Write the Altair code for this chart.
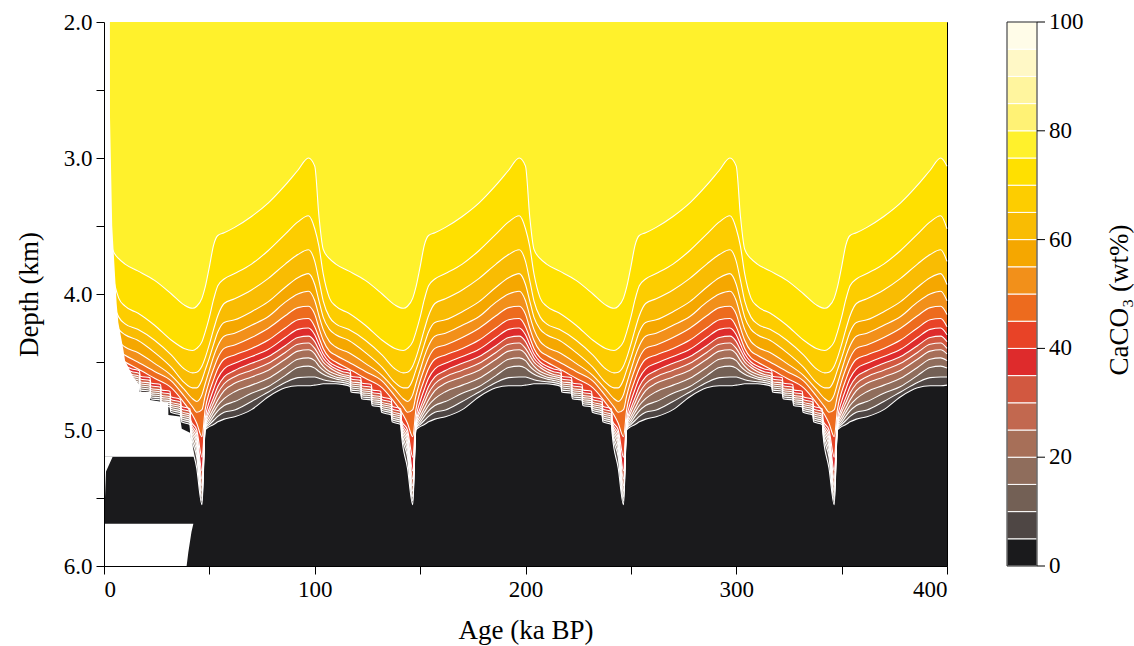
import altair as alt
import pandas as pd

# Relative age within one 100-kyr cycle (ka) for the upper contours
cycle_t = [0, 2, 4, 7, 10, 16, 24, 32, 38, 42, 44, 46.5, 48, 50, 52, 54, 57, 62, 70, 78, 86, 92, 97]
# Finer grid for the lower contours, which step down along the falling limb
cycle_t_low = [0, 2, 4, 7, 10, 13, 16.8, 17.2, 21.8, 22.2, 26.8, 27.2, 31.3, 31.7, 36.3, 36.7,
               40.8, 41.2, 44, 46.5, 48, 50, 52, 54, 57, 62, 70, 78, 86, 92, 97]
cycle_starts = [0, 100, 200, 300]

# Contour depths (km) for each CaCO3 level (wt%) across one cycle
c75 = [3.06, 3.43, 3.67, 3.74, 3.78, 3.83, 3.90, 4.00, 4.08, 4.105, 4.09, 4.03, 3.95, 3.80, 3.64, 3.57, 3.55, 3.51, 3.43, 3.33, 3.20, 3.09, 3.00]
c70 = [3.52, 3.65, 3.85, 4.03, 4.09, 4.14, 4.23, 4.34, 4.40, 4.415, 4.40, 4.35, 4.28, 4.17, 4.04, 3.94, 3.89, 3.85, 3.78, 3.68, 3.56, 3.47, 3.425]
c65 = [3.76, 3.90, 4.05, 4.17, 4.22, 4.26, 4.34, 4.45, 4.55, 4.58, 4.575, 4.53, 4.47, 4.37, 4.26, 4.16, 4.07, 4.035, 3.97, 3.885, 3.78, 3.71, 3.675]
c60 = [3.93, 4.05, 4.17, 4.26, 4.30, 4.34, 4.43, 4.54, 4.65, 4.69, 4.69, 4.63, 4.56, 4.47, 4.37, 4.28, 4.21, 4.19, 4.13, 4.056, 3.95, 3.88, 3.85]
c55 = [4.05, 4.16, 4.26, 4.35, 4.39, 4.43, 4.51, 4.60, 4.70, 4.77, 4.79, 4.74, 4.66, 4.56, 4.46, 4.38, 4.31, 4.289, 4.23, 4.166, 4.06, 4.00, 3.98]
c50 = [4.15, 4.25, 4.34, 4.42, 4.45, 4.50, 4.57, 4.64, 4.75, 4.83, 4.87, 4.85, 4.75, 4.64, 4.55, 4.47, 4.40, 4.375, 4.32, 4.252, 4.16, 4.10, 4.09]
c45 = [4.24, 4.32, 4.40, 4.47, 4.50, 4.55, 4.62, 4.69, 4.80, 4.89, 4.95, 5.05, 4.85, 4.72, 4.63, 4.55, 4.48, 4.448, 4.40, 4.338, 4.25, 4.19, 4.18]
c40 = [4.30, 4.37, 4.44, 4.50, 4.53, 4.55, 4.565, 4.605, 4.615, 4.655, 4.665, 4.705, 4.715, 4.755, 4.775, 4.825, 4.845, 4.93, 5.00, 5.20, 4.92, 4.79, 4.70, 4.62, 4.55, 4.51, 4.46, 4.407, 4.32, 4.26, 4.25]
c35 = [4.35, 4.41, 4.47, 4.52, 4.55, 4.57, 4.585, 4.625, 4.635, 4.675, 4.685, 4.725, 4.735, 4.775, 4.795, 4.845, 4.865, 4.945, 5.03, 5.30, 4.95, 4.84, 4.76, 4.68, 4.61, 4.563, 4.51, 4.46, 4.38, 4.32, 4.31]
c30 = [4.40, 4.45, 4.50, 4.54, 4.57, 4.59, 4.605, 4.645, 4.655, 4.695, 4.705, 4.745, 4.755, 4.795, 4.815, 4.865, 4.885, 4.96, 5.06, 5.36, 4.96, 4.87, 4.80, 4.73, 4.66, 4.608, 4.56, 4.51, 4.43, 4.37, 4.36]
c25 = [4.44, 4.49, 4.53, 4.57, 4.59, 4.605, 4.62, 4.66, 4.67, 4.71, 4.72, 4.76, 4.77, 4.81, 4.83, 4.88, 4.90, 4.975, 5.09, 5.41, 4.97, 4.90, 4.84, 4.78, 4.71, 4.657, 4.61, 4.56, 4.48, 4.42, 4.41]
c20 = [4.49, 4.53, 4.56, 4.59, 4.61, 4.62, 4.635, 4.675, 4.685, 4.725, 4.735, 4.775, 4.785, 4.825, 4.845, 4.895, 4.915, 4.99, 5.12, 5.45, 4.98, 4.925, 4.87, 4.82, 4.77, 4.718, 4.67, 4.62, 4.54, 4.48, 4.47]
c15 = [4.545, 4.57, 4.59, 4.61, 4.625, 4.635, 4.65, 4.69, 4.70, 4.74, 4.75, 4.79, 4.80, 4.84, 4.86, 4.91, 4.93, 5.005, 5.16, 5.49, 4.985, 4.945, 4.90, 4.86, 4.82, 4.791, 4.73, 4.68, 4.60, 4.54, 4.53]
c10 = [4.61, 4.62, 4.63, 4.64, 4.645, 4.65, 4.665, 4.705, 4.715, 4.755, 4.765, 4.805, 4.815, 4.855, 4.875, 4.925, 4.945, 5.02, 5.20, 5.52, 4.99, 4.96, 4.93, 4.90, 4.87, 4.853, 4.79, 4.72, 4.65, 4.615, 4.61]
c05 = [4.67, 4.665, 4.66, 4.66, 4.66, 4.665, 4.68, 4.72, 4.73, 4.77, 4.78, 4.82, 4.83, 4.87, 4.89, 4.94, 4.96, 5.04, 5.28, 5.55, 5.00, 4.975, 4.96, 4.94, 4.92, 4.902, 4.85, 4.755, 4.69, 4.675, 4.675]

# (level, depths, grid), drawn from the shallowest contour downwards
contours = [
    (75, c75, cycle_t), (70, c70, cycle_t), (65, c65, cycle_t), (60, c60, cycle_t),
    (55, c55, cycle_t), (50, c50, cycle_t), (45, c45, cycle_t), (40, c40, cycle_t_low),
    (35, c35, cycle_t_low), (30, c30, cycle_t_low), (25, c25, cycle_t_low),
    (20, c20, cycle_t_low), (15, c15, cycle_t_low), (10, c10, cycle_t_low), (5, c05, cycle_t_low),
]

# Band fill colours, 0-5 % up to 95-100 %
band_colors = ["#1a1a1c", "#4e4644", "#736055", "#8f6d5c", "#a76f58", "#c2684f",
               "#d25840", "#de2b2c", "#e84327", "#ed6b1e", "#f2901a", "#f5a700",
               "#f9bc03", "#fdcd00", "#ffe000", "#fff12c", "#fff275", "#fff59e",
               "#fff8c6", "#fffce8"]
bar_ticks = [0, 20, 40, 60, 80, 100]

# Region without model output (left margin, staircase edge, lower-left)
mask_age = [0, 2.8, 2.85, 3.9, 4.7, 6.0, 6.8, 9.2, 10.0, 13.9, 16.8, 16.85, 21.8, 21.85, 30.5, 30.55, 36.0, 36.9, 40.8, 42.8]
mask_top = [2.0, 2.0, 2.7, 3.5, 3.72, 4.07, 4.21, 4.41, 4.49, 4.61, 4.67, 4.72, 4.72, 4.78, 4.80, 4.89, 4.90, 4.99, 5.02, 5.196]
block_top = 5.196
lower_age = [0, 39.2, 40.0, 41.5, 42.4]
lower_top = [5.69, 5.69, 5.69, 5.69, 5.69]
lower_bottom = [6.0, 6.0, 5.9, 5.75, 5.69]
side_age = [0, 0.95, 4.1]
side_bottom = [5.69, 5.306, 5.196]

FONT = "Liberation Serif"
LABEL_SIZE = 23
TITLE_SIZE = 27
W, H = 843, 544
BAR_X0, BAR_X1 = 903, 933

xscale = alt.Scale(domain=[0, 400], nice=False, zero=False)
yscale = alt.Scale(domain=[2, 6], reverse=True, nice=False, zero=False)

xaxis = alt.Axis(values=list(range(0, 401, 50)),
                 labelExpr="datum.value % 100 == 0 ? datum.label : ''",
                 title="Age (ka BP)", tickSize=8, grid=False, domainColor="#000", tickColor="#000",
                 labelFont=FONT, labelFontSize=LABEL_SIZE, labelColor="#000", labelPadding=4,
                 titleFont=FONT, titleFontSize=TITLE_SIZE, titleFontWeight="normal", titleColor="#000",
                 titlePadding=16, zindex=1)
yaxis = alt.Axis(values=[2 + 0.5 * i for i in range(9)],
                 labelExpr="datum.value % 1 == 0 ? format(datum.value, '.1f') : ''",
                 title="Depth (km)", tickSize=8, grid=False, domainColor="#000", tickColor="#000",
                 labelFont=FONT, labelFontSize=LABEL_SIZE, labelColor="#000", labelPadding=4,
                 titleFont=FONT, titleFontSize=TITLE_SIZE, titleFontWeight="normal", titleColor="#000",
                 titlePadding=20, zindex=1)


def cycle_series(grid, vals):
    ages = [s + t for s in cycle_starts for t in grid] + [400]
    depths = [v for _ in cycle_starts for v in vals] + [vals[0]]
    return ages, depths


# Top band (75-80 %) fills the whole panel; each contour then paints the band below it
base = pd.DataFrame({"age": [0, 400], "top": [2.0, 2.0], "bottom": [6.0, 6.0]})
layers = [
    alt.Chart(base).mark_area(color=band_colors[15]).encode(
        x=alt.X("age:Q", scale=xscale, axis=xaxis),
        y=alt.Y("top:Q", scale=yscale, axis=yaxis),
        y2="bottom:Q",
    )
]

line_frames = []
for level, vals, grid in contours:
    ages, depths = cycle_series(grid, vals)
    df = pd.DataFrame({"age": ages, "depth": depths, "bottom": [6.0] * len(ages), "level": level})
    line_frames.append(df)
    layers.append(
        alt.Chart(df).mark_area(interpolate="monotone", color=band_colors[level // 5 - 1]).encode(
            x="age:Q", y="depth:Q", y2="bottom:Q",
        )
    )

lines = pd.concat(line_frames, ignore_index=True)
layers.append(
    alt.Chart(lines).mark_line(color="white", strokeWidth=1.1, interpolate="monotone").encode(
        x="age:Q", y="depth:Q", detail="level:N", order="age:Q",
    )
)

mask_a = pd.DataFrame({"age": mask_age, "top": mask_top, "bottom": [block_top] * len(mask_age)})
mask_b = pd.DataFrame({"age": lower_age, "top": lower_top, "bottom": lower_bottom})
mask_c = pd.DataFrame({"age": side_age, "top": [block_top] * 3, "bottom": side_bottom})
for m in (mask_a, mask_b, mask_c):
    layers.append(alt.Chart(m).mark_area(color="white").encode(x="age:Q", y="top:Q", y2="bottom:Q"))


def pct_to_depth(p):
    # colour bar shares the plot's vertical extent: 0 % at the bottom, 100 % at the top
    return 6.0 - p * 0.04


band_names = [f"{5*k:02d}-{5*k+5:02d}" for k in range(20)]
bar = pd.DataFrame({"lo": [pct_to_depth(5 * k) for k in range(20)],
                    "hi": [pct_to_depth(5 * k + 5) for k in range(20)],
                    "band": band_names})
bar_lab = pd.DataFrame({"pos": [pct_to_depth(p) for p in bar_ticks],
                        "text": [str(p) for p in bar_ticks]})

layers.append(
    alt.Chart(bar).mark_rect(stroke="white", strokeWidth=1).encode(
        x=alt.value(BAR_X0), x2=alt.value(BAR_X1),
        y="lo:Q", y2="hi:Q",
        color=alt.Color("band:N", scale=alt.Scale(domain=band_names, range=band_colors), legend=None),
    )
)
layers.append(
    alt.Chart(pd.DataFrame({"k": [0]})).mark_rect(fillOpacity=0, stroke="#222", strokeWidth=1).encode(
        x=alt.value(BAR_X0), x2=alt.value(BAR_X1), y=alt.value(0), y2=alt.value(H),
    )
)
layers.append(
    alt.Chart(bar_lab).mark_rule(color="#000", strokeWidth=1).encode(
        x=alt.value(BAR_X1), x2=alt.value(BAR_X1 + 8), y="pos:Q",
    )
)
layers.append(
    alt.Chart(bar_lab).mark_text(align="left", baseline="middle", font=FONT,
                                 fontSize=LABEL_SIZE, color="#000").encode(
        x=alt.value(BAR_X1 + 12), y="pos:Q", text="text:N",
    )
)
layers.append(
    alt.Chart(pd.DataFrame({"t": ["CaCO₃ (wt%)"]})).mark_text(
        angle=270, align="center", baseline="middle", font=FONT, fontSize=TITLE_SIZE, color="#000").encode(
        x=alt.value(1016), y=alt.value(H / 2 + 6), text="t:N",
    )
)

chart = alt.layer(*layers).properties(
    width=W, height=H,
    autosize=alt.AutoSizeParams(type="none"),
    padding={"left": 104, "top": 22, "right": 187, "bottom": 80},
).configure_view(stroke="#000", strokeWidth=1)

chart.save("out.html", embed_options={"renderer": "svg", "actions": False})
